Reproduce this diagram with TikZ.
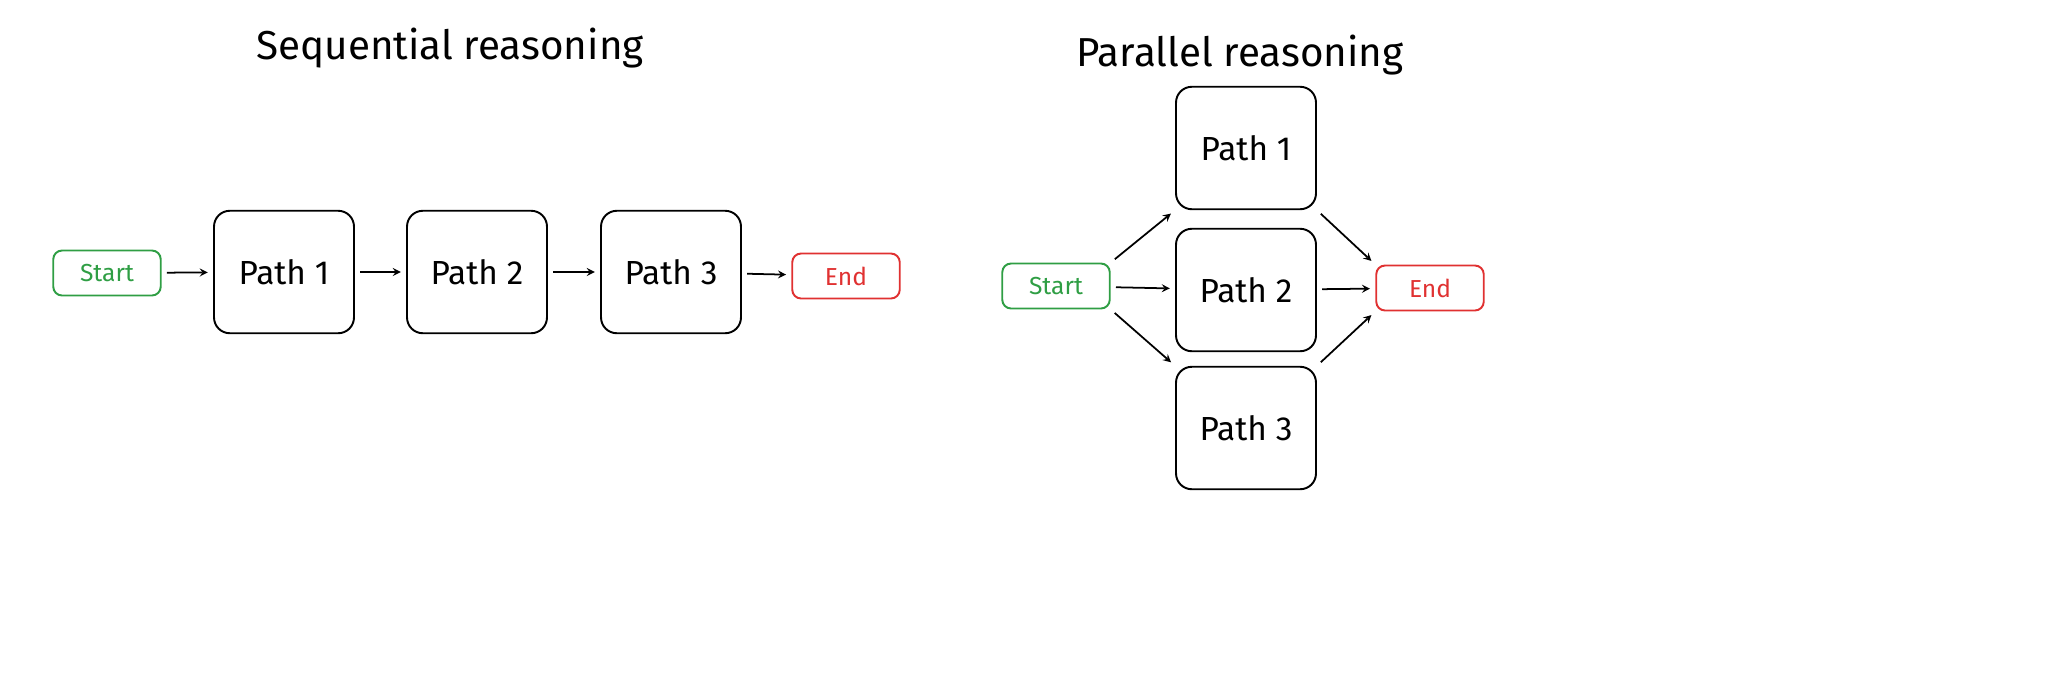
\documentclass[tikz,border=0pt]{standalone}
\usepackage{fontspec}
\setmainfont{Fira Sans}
\usepackage{xcolor}
\usetikzlibrary{positioning}
\definecolor{startgreen}{HTML}{2F9E44}
\definecolor{endred}{HTML}{E03131}

\begin{document}
\begin{tikzpicture}[
  x=0.02cm, y=-0.02cm,
  block/.style={rectangle, draw, rounded corners=9pt, line width=1.1pt, minimum width=2.8cm, minimum height=2.45cm, align=center, font=\fontsize{19}{22}\selectfont},
  term/.style={rectangle, draw, rounded corners=5pt, line width=1.1pt, minimum width=2.15cm, minimum height=0.9cm, font=\fontsize{14}{16}\selectfont},
  title/.style={font=\fontsize{23}{27}\selectfont},
  arrow/.style={->, >=stealth, line width=1pt, shorten >=3pt, shorten <=3pt}
]
\useasboundingbox (0,0) rectangle (2048,687);

% Sequential reasoning
\node[title] (seqtitle) at (450,48) {Sequential reasoning};
\node[term, draw=startgreen, text=startgreen] (sstart) at (107,273) {Start};
\node[block] (spath1) at (284,272) {Path 1};
\node[block] (spath2) at (477,272) {Path 2};
\node[block] (spath3) at (671,272) {Path 3};
\node[term, draw=endred, text=endred] (send) at (846,276) {End};

\draw[arrow] (sstart) -- (spath1);
\draw[arrow] (spath1) -- (spath2);
\draw[arrow] (spath2) -- (spath3);
\draw[arrow] (spath3) -- (send);

% Parallel reasoning
\node[title] (partitle) at (1240,55) {Parallel reasoning};
\node[term, draw=startgreen, text=startgreen] (pstart) at (1056,286) {Start};
\node[block] (ppath1) at (1246,148) {Path 1};
\node[block] (ppath2) at (1246,290) {Path 2};
\node[block] (ppath3) at (1246,428) {Path 3};
\node[term, draw=endred, text=endred] (pend) at (1430,288) {End};

\draw[arrow] (pstart.north east) -- (ppath1.south west);
\draw[arrow] (pstart) -- (ppath2);
\draw[arrow] (pstart.south east) -- (ppath3.north west);
\draw[arrow] (ppath1.south east) -- (pend.north west);
\draw[arrow] (ppath2) -- (pend);
\draw[arrow] (ppath3.north east) -- (pend.south west);

\end{tikzpicture}
\end{document}
